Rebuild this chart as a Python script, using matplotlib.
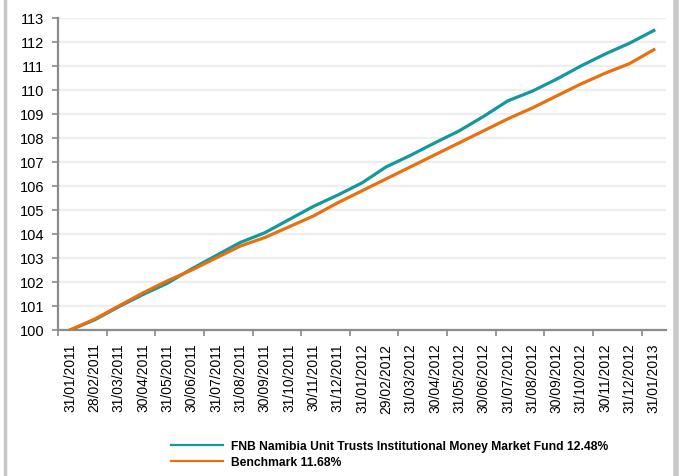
import matplotlib
matplotlib.use("Agg")
import matplotlib.pyplot as plt
from matplotlib.lines import Line2D

plt.rcParams['font.family'] = ['Liberation Sans', 'DejaVu Sans']

dates = ["31/01/2011", "28/02/2011", "31/03/2011", "30/04/2011", "31/05/2011",
         "30/06/2011", "31/07/2011", "31/08/2011", "30/09/2011", "31/10/2011",
         "30/11/2011", "31/12/2011", "31/01/2012", "29/02/2012", "31/03/2012",
         "30/04/2012", "31/05/2012", "30/06/2012", "31/07/2012", "31/08/2012",
         "30/09/2012", "31/10/2012", "30/11/2012", "31/12/2012", "31/01/2013"]

fund = [100.0, 100.42, 100.97, 101.48, 101.95, 102.55, 103.1, 103.65, 104.05,
        104.6, 105.15, 105.62, 106.13, 106.8, 107.28, 107.8, 108.3, 108.9,
        109.55, 109.95, 110.45, 111.0, 111.5, 111.95, 112.48]

bench = [100.0, 100.45, 101.0, 101.55, 102.05, 102.5, 103.0, 103.5, 103.85,
         104.3, 104.75, 105.3, 105.8, 106.3, 106.8, 107.3, 107.8, 108.3,
         108.8, 109.25, 109.75, 110.25, 110.7, 111.1, 111.68]

fund_label = "FNB Namibia Unit Trusts Institutional Money Market Fund 12.48%"
bench_label = "Benchmark 11.68%"

fig = plt.figure(figsize=(6.86, 4.77), dpi=100)
ax = fig.add_axes([58 / 686, 1 - 331 / 477, 608 / 686, 312 / 477])

x = list(range(len(dates)))
ax.plot(x, fund, color="#13999b", lw=2.3, label=fund_label, zorder=3)
ax.plot(x, bench, color="#e8700f", lw=2.3, label=bench_label, zorder=3)

ax.set_xlim(-0.5, len(dates) - 0.5)
ax.set_ylim(100, 113)
ax.set_yticks(range(100, 114))
ax.yaxis.grid(True, color="#eeeeee", lw=1.6)
ax.set_axisbelow(True)

# category labels at points, tick marks between every second category
ax.set_xticks(x)
ax.set_xticklabels(dates, rotation=90, fontsize=10)
ax.tick_params(axis="x", which="major", length=0, pad=9)
ax.set_xticks([i - 0.5 for i in range(0, len(dates) + 1, 2)], minor=True)
ax.tick_params(axis="x", which="minor", length=4, color="#888888", width=1.2)
ax.tick_params(axis="y", length=4, color="#888888", width=1.2, labelsize=10.5, pad=6)

for s in ["top", "right"]:
    ax.spines[s].set_visible(False)
for s in ["left", "bottom"]:
    ax.spines[s].set_color("#8c8c8c")
    ax.spines[s].set_linewidth(1.6)

leg = fig.legend(loc="upper left", bbox_to_anchor=(171 / 686, 1 - 441 / 477),
                 frameon=False, prop={"weight": "bold", "size": 8.7},
                 handlelength=4.3, handletextpad=0.63, labelspacing=0.32,
                 borderaxespad=0, borderpad=0)
for line in leg.get_lines():
    line.set_linewidth(1.6)

# page border on the sides
fig.add_artist(Line2D([4.5 / 686, 4.5 / 686], [0, 1], color="#c8c8c8", lw=2.5))
fig.add_artist(Line2D([676 / 686, 676 / 686], [0, 1], color="#c8c8c8", lw=4))

fig.savefig("out.png", dpi=100)
